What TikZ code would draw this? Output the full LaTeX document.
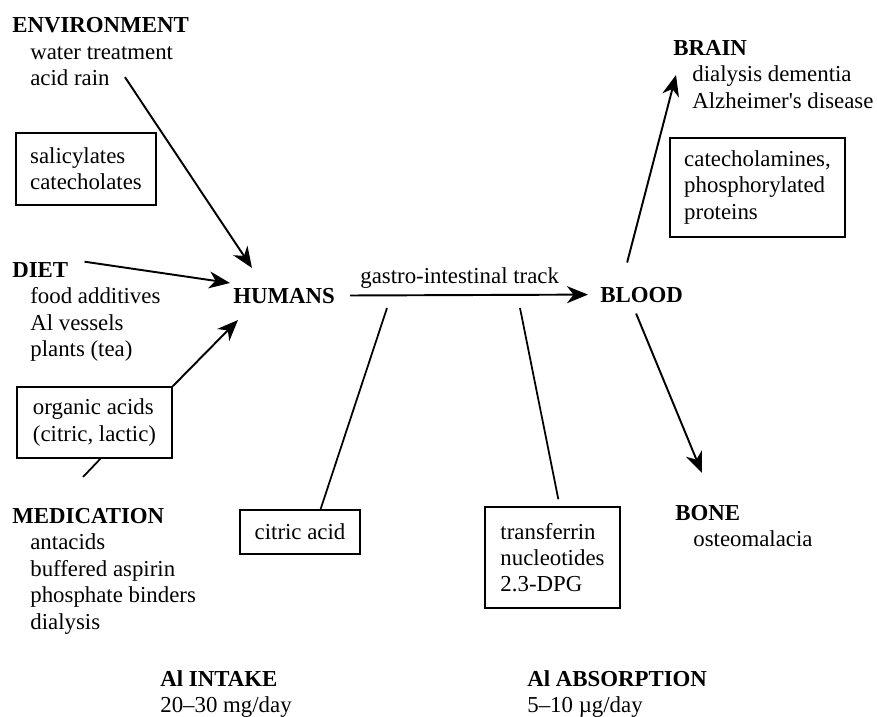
\documentclass[tikz,border=0pt]{standalone}
\usepackage{fontspec}
\setmainfont{Liberation Serif}
\usetikzlibrary{arrows.meta,positioning}

\newcommand\figsize{\fontsize{13}{15}\selectfont}

\begin{document}
\begin{tikzpicture}[
  head/.style={font=\figsize\bfseries, anchor=base west, inner sep=0},
  item/.style={font=\figsize, anchor=base west, inner sep=0},
  box/.style={draw, line width=1pt, font=\figsize, align=left, inner sep=0},
  arr/.style={-{Stealth[length=4.2mm, width=3.4mm, inset=1.3mm]}, line width=1.1pt},
  link/.style={line width=1pt},
  lbl/.style={font=\figsize, inner sep=3pt}
]
\useasboundingbox (0,0) rectangle (17.54,-14.34);

% Sources
\node[head] (env) at (0.24,-0.64) {ENVIRONMENT};
\node[item] (water) at (0.60,-1.18) {water treatment};
\node[item] (acid)  at (0.60,-1.70) {acid rain};

\node[head] (diet) at (0.24,-5.54) {DIET};
\foreach \t [count=\i] in {food additives, Al vessels, plants (tea)}
  \node[item] (diet-\i) at (0.60,-5.54-0.53*\i) {\t};

\node[head] (med) at (0.24,-10.46) {MEDICATION};
\foreach \t [count=\i] in {antacids, buffered aspirin, phosphate binders, dialysis}
  \node[item] (med-\i) at (0.60,-10.46-0.53*\i) {\t};

% Ligand boxes
\node[box, minimum width=2.80cm, minimum height=1.44cm] (sal)   at (1.72,-3.38)  {salicylates\\catecholates};
\node[box, minimum width=3.10cm, minimum height=1.42cm] (org)   at (1.89,-8.45)  {organic acids\\(citric, lactic)};
\node[box, minimum width=2.40cm, minimum height=0.88cm] (cit)   at (6.00,-10.64) {citric acid};
\node[box, minimum width=2.70cm, minimum height=2.02cm] (trans) at (11.05,-11.15) {transferrin\\nucleotides\\2.3-DPG};
\node[box, minimum width=3.50cm, minimum height=1.98cm] (cat)   at (15.15,-3.75) {catecholamines,\\phosphorylated\\proteins};

% Main chain
\node[head] (humans) at (4.66,-6.06) {HUMANS};
\node[head] (blood)  at (12.00,-6.04) {BLOOD};

% Targets
\node[head] (brain) at (13.46,-1.10) {BRAIN};
\node[item] (brain-1) at (13.84,-1.63) {dialysis dementia};
\node[item] (brain-2) at (13.84,-2.16) {Alzheimer\textquotesingle s disease};

\node[head] (bone) at (13.50,-10.40) {BONE};
\node[item] (bone-1) at (13.86,-10.93) {osteomalacia};

% Totals
\node[head] (intake) at (3.20,-13.72) {Al INTAKE};
\node[item] (intake-1) at (3.20,-14.24) {20--30 mg/day};
\node[head] (absorb) at (10.54,-13.72) {Al ABSORPTION};
\node[item] (absorb-1) at (10.54,-14.24) {5--10 µg/day};

% Loose ends
\coordinate (envtip)  at (5.04,-5.36);
\coordinate (diettip) at (4.60,-5.66);
\coordinate (orgtip)  at (4.76,-6.40);
\coordinate (medstub) at (1.66,-9.54);
\coordinate (gistubA) at (7.74,-6.16);
\coordinate (gistubB) at (10.40,-6.16);
\coordinate (braintip) at (13.52,-1.50);
\coordinate (bonetip) at (14.04,-9.46);

% Arrows
\draw[arr] ([xshift=0.3cm]acid.east) -- (envtip);
\draw[arr] ([xshift=0.32cm]diet.north east) -- (diettip);
\draw[arr] (org.north east) -- (orgtip);
\draw[link] (org.-81) -- (medstub);
\draw[arr, shorten <=0.3cm, shorten >=0.24cm] (humans.east) -- node[above, lbl, pos=0.47] {gastro-intestinal track} (blood.west);
\draw[link] (cit.48) -- (gistubA);
\draw[link, shorten <=0.14cm] (trans.82) -- (gistubB);
\draw[arr] ([shift={(-0.29,0.48)}]blood.north) -- (braintip);
\draw[arr] ([shift={(-0.11,-0.22)}]blood.south) -- (bonetip);
\end{tikzpicture}
\end{document}
